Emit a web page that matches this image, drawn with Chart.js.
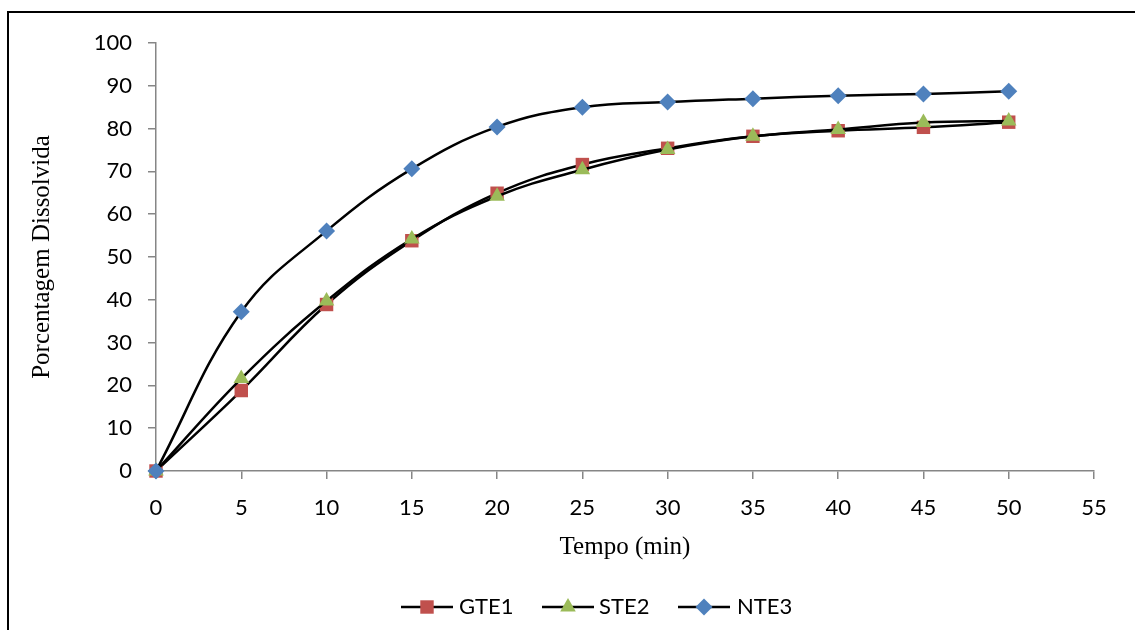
<!DOCTYPE html>
<html>
<head>
<meta charset="utf-8">
<script src="https://cdn.jsdelivr.net/npm/chart.js@4.4.0/dist/chart.umd.min.js"></script>
<style>
  html, body { margin: 0; padding: 0; background: #fff; overflow: hidden; }
  #wrap { position: relative; width: 1135px; height: 630px; }
  #frame { position: absolute; left: 7px; top: 11px; width: 1150px; height: 700px; border: 2px solid #000; box-sizing: border-box; pointer-events: none; }
  canvas { position: absolute; left: 0; top: 0; }
</style>
</head>
<body>
<div id="wrap">
  <canvas id="c" width="1135" height="630"></canvas>
  <div id="frame"></div>
</div>
<script>
const times = [0, 5, 10, 15, 20, 25, 30, 35, 40, 45, 50];
const gte1 = [0, 18.8, 38.9, 53.8, 64.9, 71.6, 75.4, 78.2, 79.5, 80.3, 81.5];
const ste2 = [0, 21.6, 39.7, 54.2, 64.2, 70.4, 75.1, 78.2, 79.8, 81.4, 81.8];
const nte3 = [0, 37.2, 56.1, 70.6, 80.4, 85.0, 86.2, 87.0, 87.7, 88.1, 88.7];
const seriesNames = ['GTE1', 'STE2', 'NTE3'];
const xTitle = 'Tempo (min)';
const yTitle = 'Porcentagem Dissolvida';

const colors = ['#C0504D', '#9BBB59', '#4F81BD'];
const styles = ['rect', 'triangle', 'rectRot'];
const radii = [9.5, 9, 8.5];
const values = [gte1, ste2, nte3];

function pts(arr) { return times.map((t, i) => ({ x: t, y: arr[i] })); }

const datasets = values.map((arr, i) => ({
  label: seriesNames[i],
  data: pts(arr),
  borderColor: '#000',
  borderWidth: 2.5,
  backgroundColor: colors[i],
  pointBackgroundColor: colors[i],
  pointBorderColor: colors[i],
  pointBorderWidth: 0,
  pointStyle: styles[i],
  pointRadius: radii[i],
  pointHoverRadius: radii[i],
  tension: 0.4,
  fill: false,
  clip: false,
  order: 2 - i
}));

const legendPlugin = {
  id: 'customLegend',
  afterDraw(chart) {
    const ctx = chart.ctx;
    const y = 607;
    const items = [
      { x0: 401, x1: 453, tx: 459 },
      { x0: 542, x1: 594, tx: 599 },
      { x0: 678, x1: 730, tx: 737 }
    ];
    ctx.save();
    items.forEach((it, i) => {
      ctx.strokeStyle = '#000';
      ctx.lineWidth = 2.5;
      ctx.beginPath();
      ctx.moveTo(it.x0, y);
      ctx.lineTo(it.x1, y);
      ctx.stroke();
      const cx = (it.x0 + it.x1) / 2;
      ctx.fillStyle = colors[i];
      ctx.strokeStyle = colors[i];
      Chart.helpers.drawPoint(ctx, { pointStyle: styles[i], radius: radii[i], borderWidth: 0, rotation: 0 }, cx, y);
      ctx.fillStyle = '#000';
      ctx.font = '22px Lato';
      ctx.textBaseline = 'middle';
      ctx.textAlign = 'left';
      ctx.fillText(seriesNames[i], it.tx, y);
    });
    ctx.restore();
  }
};

Chart.defaults.font.family = 'Lato';

new Chart(document.getElementById('c'), {
  type: 'line',
  data: { datasets },
  options: {
    responsive: false,
    animation: false,
    devicePixelRatio: 1,
    layout: { padding: { left: 0, top: 43, right: 41, bottom: 68 } },
    plugins: { legend: { display: false }, tooltip: { enabled: false } },
    scales: {
      x: {
        type: 'linear', min: 0, max: 55,
        ticks: { stepSize: 5, color: '#000', font: { size: 22, family: 'Lato' }, padding: 16, maxRotation: 0 },
        grid: { drawOnChartArea: false, drawTicks: true, tickLength: 8, color: '#868686', lineWidth: 1.5 },
        border: { color: '#868686', width: 1.5 },
        title: { display: true, text: xTitle, color: '#000', font: { size: 25, family: 'Liberation Serif' }, padding: { top: 0, bottom: 0 } },
        afterFit(s) { s.height = 91; }
      },
      y: {
        min: 0, max: 100,
        ticks: { stepSize: 10, color: '#000', font: { size: 22, family: 'Lato' }, padding: 16 },
        grid: { drawOnChartArea: false, drawTicks: true, tickLength: 8, color: '#868686', lineWidth: 1.5 },
        border: { color: '#868686', width: 1.5 },
        title: { display: true, text: yTitle, color: '#000', font: { size: 25, family: 'Liberation Serif' }, padding: { top: 27, bottom: 0 } },
        afterFit(s) { s.width = 156; }
      }
    }
  },
  plugins: [legendPlugin]
});
</script>
</body>
</html>
